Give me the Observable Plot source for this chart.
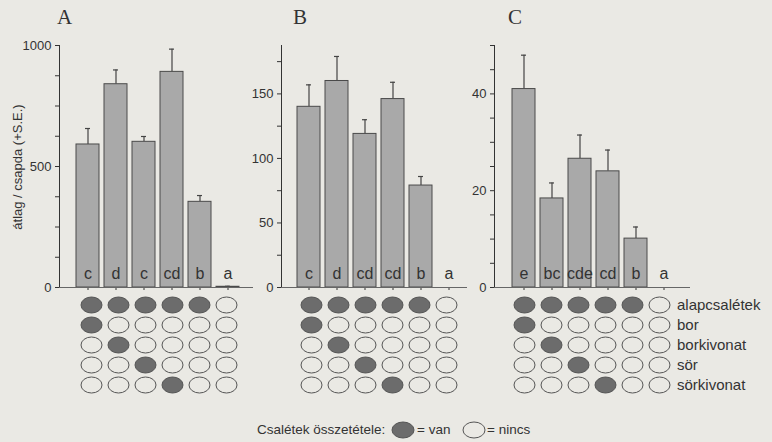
<!DOCTYPE html>
<html>
<head>
<meta charset="utf-8">
<script src="https://cdn.jsdelivr.net/npm/d3@7"></script>
<script src="https://cdn.jsdelivr.net/npm/@observablehq/plot@0.6"></script>
<style>
  body { margin: 0; background: #eae9e4; }
  #wrap { position: relative; width: 772px; height: 442px; background: #eae9e4; overflow: hidden;
          font-family: 'Liberation Sans', Arial, sans-serif; color: #333; }
  #wrap > svg { position: absolute; left: 0; top: 0; }
  .ptitle { position: absolute; font-family: 'Liberation Serif', 'Times New Roman', serif; font-size: 21px; line-height: 1; color: #333; }
  .ylab { position: absolute; font-size: 13px; line-height: 13px; white-space: nowrap; transform: translate(-50%, -50%) rotate(-90deg); left: 17px; top: 167px; color: #333; }
  .lg { position: absolute; top: 421px; height: 18px; line-height: 18px; white-space: nowrap; color: #333; }
  .lg svg { display: block; }
</style>
</head>
<body>
<div id="wrap">
  <div class="ptitle" style="left:57px; top:7px">A</div>
  <div class="ptitle" style="left:293px; top:7px">B</div>
  <div class="ptitle" style="left:508px; top:7px">C</div>
  <div class="ylab">átlag / csapda (+S.E.)</div>
  <div class="lg" style="left:257px; font-size:13.5px">Csalétek összetétele:</div>
  <div class="lg" style="left:391px"><svg width="24" height="18"><ellipse cx="12" cy="9" rx="11" ry="8" fill="#6c6c6c" stroke="#555"/></svg></div>
  <div class="lg" style="left:417px; font-size:13.5px">= van</div>
  <div class="lg" style="left:462px"><svg width="24" height="18"><ellipse cx="12" cy="9" rx="11" ry="8" fill="none" stroke="#555"/></svg></div>
  <div class="lg" style="left:487px; font-size:13.5px">= nincs</div>
</div>
<script>
// ---- data ----
const columns = ["1", "2", "3", "4", "5", "6"];
const baitRows = ["alapcsalétek", "bor", "borkivonat", "sör", "sörkivonat"];
// 1 = van (present), 0 = nincs (absent); rows x columns
const composition = [
  [1, 1, 1, 1, 1, 0],
  [1, 0, 0, 0, 0, 0],
  [0, 1, 0, 0, 0, 0],
  [0, 0, 1, 0, 0, 0],
  [0, 0, 0, 1, 0, 0]
];

const meansA = [591, 840, 602, 891, 354, 3];
const seA = [66, 59, 22, 94, 26, 2];
const lettersA = ["c", "d", "c", "cd", "b", "a"];

const meansB = [140, 160, 119, 146, 79, 0];
const seB = [17, 19, 11, 13, 7, 0];
const lettersB = ["c", "d", "cd", "cd", "b", "a"];

const meansC = [41.0, 18.4, 26.6, 24.0, 10.1, 0];
const seC = [7.0, 3.2, 4.9, 4.4, 2.4, 0];
const lettersC = ["e", "bc", "cde", "cd", "b", "a"];

const yMaxA = 1000, ticksA = d3.range(0, 1001, 125), majorA = [0, 500, 1000];
const yMaxB = 187.5, ticksB = d3.range(0, 188, 25), majorB = [0, 50, 100, 150];
const yMaxC = 50, ticksC = d3.range(0, 51, 5), majorC = [0, 20, 40];

// ---- layout ----
const W = 772, H = 442;
const panels = [
  {means: meansA, se: seA, letters: lettersA, yMax: yMaxA, ticks: ticksA, major: majorA,
   axisX: 59, right: 253, c0: 87.5, pitch: 28.1, mc0: 90, mpitch: 27.7, labels: false},
  {means: meansB, se: seB, letters: lettersB, yMax: yMaxB, ticks: ticksB, major: majorB,
   axisX: 281, right: 467, c0: 308, pitch: 28, mc0: 310, mpitch: 27.4, labels: false},
  {means: meansC, se: seC, letters: lettersC, yMax: yMaxC, ticks: ticksC, major: majorC,
   axisX: 494, right: 690, c0: 523, pitch: 28.25, mc0: 523.5, mpitch: 27.4, labels: true}
];

const wrap = document.getElementById("wrap");
const baseStyle = {background: "transparent", fontFamily: "'Liberation Sans', Arial, sans-serif", fontSize: "13px", color: "#333", overflow: "visible"};

for (const p of panels) {
  const data = columns.map((c, i) => ({col: c, value: p.means[i], top: p.means[i] + p.se[i], se: p.se[i], letter: p.letters[i]}));
  const bars = Plot.plot({
    width: W, height: 292,
    marginTop: 45, marginBottom: 5, marginLeft: p.axisX, marginRight: W - p.right,
    style: baseStyle,
    x: {domain: columns, range: [p.c0 - p.pitch / 2, p.c0 + 5.5 * p.pitch], paddingInner: 0.18, paddingOuter: 0.09,
        tickSize: 3, tickFormat: () => "", label: null},
    y: {domain: [0, p.yMax], ticks: p.ticks, tickFormat: d => p.major.includes(d) ? String(d) : "",
        tickSize: 4, tickPadding: 4, line: true, label: null},
    marks: [
      Plot.ruleX(data.filter(d => d.se > 0), {x: "col", y1: "value", y2: "top", stroke: "#444", strokeWidth: 1.2}),
      Plot.tickY(data.filter(d => d.se > 0), {x: "col", y: "top", insetLeft: 9, insetRight: 9, stroke: "#444", strokeWidth: 1.2}),
      Plot.barY(data, {x: "col", y: "value", fill: "#a9a9a9", stroke: "#4a4a4a", strokeWidth: 1}),
      Plot.ruleY([0], {stroke: "#666", strokeWidth: 1.2}),
      Plot.text(data, {x: "col", y: 0, text: "letter", dy: -14, fontSize: 16, fill: "#333"})
    ]
  });
  wrap.appendChild(bars);

  const cells = [];
  baitRows.forEach((r, ri) => columns.forEach((c, ci) => cells.push({row: r, col: c, on: composition[ri][ci] === 1})));
  const x0 = p.mc0 - p.mpitch / 2, x1 = p.mc0 + 5.5 * p.mpitch;
  const ell = {x: "col", y: "row", stroke: "#555", strokeWidth: 1,
               insetLeft: 3, insetRight: 3, insetTop: 2, insetBottom: 2, rx: 10.7, ry: 8.4};
  const matrix = Plot.plot({
    width: W, height: H,
    marginTop: 293, marginBottom: H - 397.5, marginLeft: x0, marginRight: W - x1,
    style: {...baseStyle, fontSize: "15px"},
    x: {domain: columns, padding: 0, axis: null},
    y: {domain: baitRows, padding: 0, axis: null},
    marks: [
      Plot.cell(cells, {...ell, filter: d => d.on, fill: "#6c6c6c"}),
      Plot.cell(cells, {...ell, filter: d => !d.on, fill: "none"}),
      ...(p.labels ? [Plot.text(baitRows, {x: () => "6", y: d => d, dx: 17, textAnchor: "start", fill: "#333", fontSize: 15})] : [])
    ]
  });
  wrap.appendChild(matrix);
}
</script>
</body>
</html>
